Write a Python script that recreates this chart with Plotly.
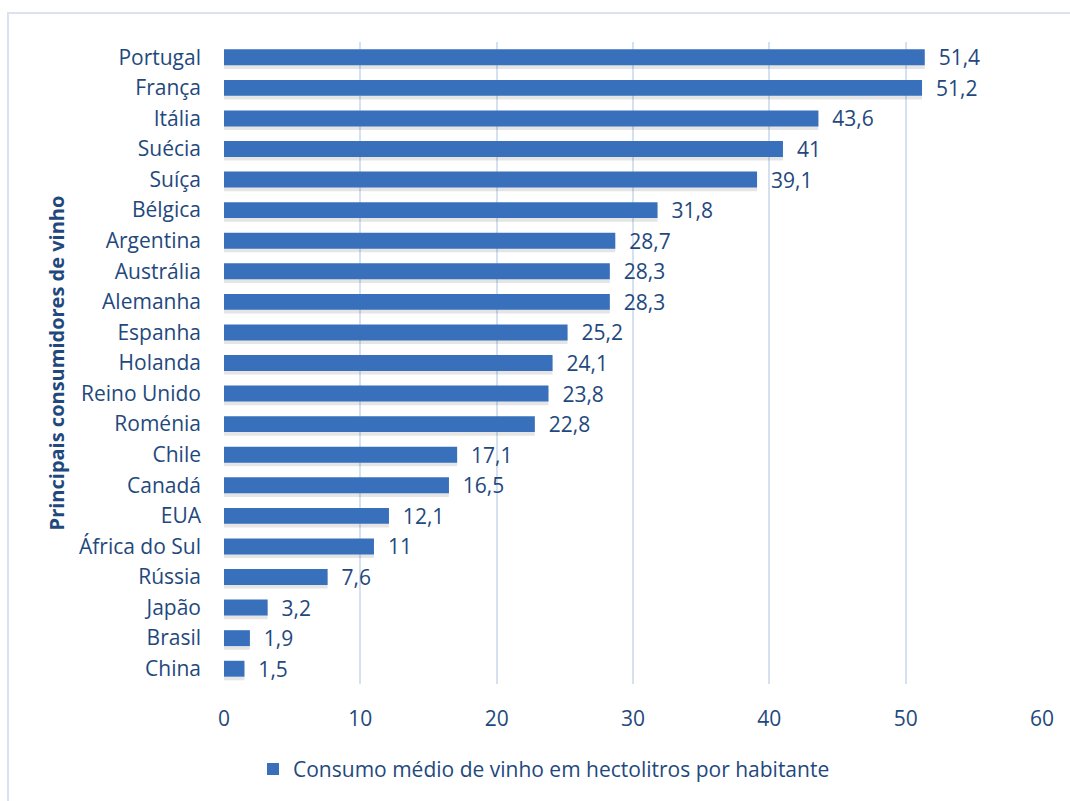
import plotly.graph_objects as go

# Average wine consumption per inhabitant, by country
countries = ["Portugal", "França", "Itália", "Suécia", "Suíça", "Bélgica", "Argentina",
             "Austrália", "Alemanha", "Espanha", "Holanda", "Reino Unido", "Roménia",
             "Chile", "Canadá", "EUA", "África do Sul", "Rússia", "Japão", "Brasil", "China"]
consumption = [51.4, 51.2, 43.6, 41, 39.1, 31.8, 28.7, 28.3, 28.3, 25.2, 24.1, 23.8, 22.8,
               17.1, 16.5, 12.1, 11, 7.6, 3.2, 1.9, 1.5]
x_ticks = [0, 10, 20, 30, 40, 50, 60]

series_name = "Consumo médio de vinho em hectolitros por habitante"
axis_title = "Principais consumidores de vinho"

TEXT = "#1F497D"
BAR = "#3870BC"
FONT = "'Open Sans', 'Noto Sans', sans-serif"
FS = 21

labels = ["\u00a0\u00a0" + ("%g" % v).replace(".", ",") for v in consumption]

W, H = 1070, 801
ml, mr, mt, mb = 224, 28, 42, 117
pw = W - ml - mr
ph = H - mt - mb

fig = go.Figure()

# soft drop shadow under each bar
fig.add_trace(go.Bar(
    y=countries, x=consumption, orientation="h",
    width=0.52, offset=-0.38,
    marker=dict(color="rgba(0,0,0,0.10)", line=dict(width=0)),
    showlegend=False, hoverinfo="skip",
))

fig.add_trace(go.Bar(
    y=countries, x=consumption, orientation="h",
    name=series_name,
    width=0.52, offset=-0.26,
    marker=dict(color=BAR, line=dict(width=0)),
    text=labels, textposition="outside", cliponaxis=False, constraintext="none",
    textfont=dict(family=FONT, size=FS, color=TEXT),
))

# outer chart border
fig.add_shape(type="rect", xref="paper", yref="paper",
              x0=(8 - ml) / pw, x1=(1090 - ml) / pw,
              y0=(H - mb - 820) / ph, y1=(H - mb - 13) / ph,
              line=dict(color="#D9E2EE", width=2), fillcolor="rgba(0,0,0,0)", layer="below")

fig.update_layout(
    width=W, height=H,
    margin=dict(l=ml, r=mr, t=mt, b=mb, autoexpand=False),
    paper_bgcolor="white", plot_bgcolor="white",
    barmode="overlay",
    font=dict(family=FONT, size=FS, color=TEXT),
    xaxis=dict(range=[0, 60], tickvals=x_ticks, showgrid=True, gridcolor="#D6E1EF",
               gridwidth=2, zeroline=False, showline=False, ticks="", automargin=False,
               ticklabelstandoff=20, tickfont=dict(size=FS, color=TEXT)),
    yaxis=dict(categoryorder="array", categoryarray=countries[::-1],
               range=[-0.5, len(countries) - 0.5], showgrid=False, zeroline=False,
               showline=False, ticks="", ticklabelstandoff=22, automargin=False,
               tickfont=dict(size=FS, color=TEXT),
               title=dict(text="<b>" + axis_title + "</b>", standoff=8,
                          font=dict(size=20, color=TEXT))),
    legend=dict(orientation="h", x=(253 - ml) / pw, xanchor="left", y=-0.101,
                yanchor="top", font=dict(size=FS, color=TEXT), itemwidth=30),
)

fig.write_html("out.html")
